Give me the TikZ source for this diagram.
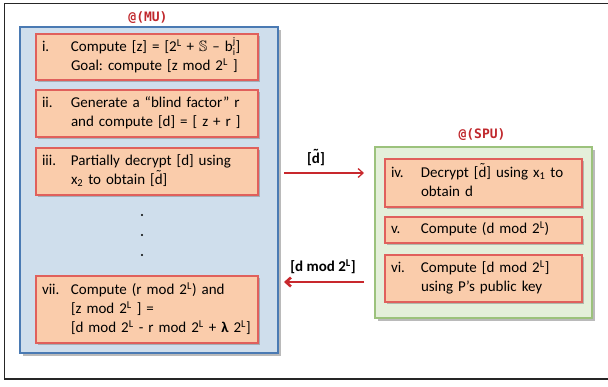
\documentclass[tikz,border=0pt]{standalone}
\usepackage{amssymb}
\usepackage{fontspec}
\setmainfont{Carlito}
\newfontfamily\labfont{DejaVu Sans Mono}
\usetikzlibrary{arrows.meta,shadows,calc}
\definecolor{orfill}{HTML}{FACCAB}
\definecolor{ordraw}{HTML}{E0605C}
\definecolor{bluefill}{HTML}{CFDEEC}
\definecolor{bluedraw}{HTML}{4A7AB3}
\definecolor{grfill}{HTML}{E4EFDA}
\definecolor{grdraw}{HTML}{9CC27C}
\definecolor{labred}{HTML}{C0282D}
\definecolor{arrred}{HTML}{C8282D}
\frenchspacing
\newcommand\td{\ooalign{d\cr\hidewidth\raisebox{0.28em}{˜}\hidewidth\cr}}
\newcommand\subsup[2]{$_{\mbox{\fontsize{10}{10}\selectfont #1}}^{\mbox{\fontsize{10}{10}\selectfont #2}}$}
\begin{document}
\begin{tikzpicture}[x=1pt,y=-1pt,
  panel/.style={line width=2pt, drop shadow={shadow xshift=3pt,shadow yshift=-3pt,opacity=0.45,fill=black!60}},
  obox/.style={draw=ordraw, fill=orfill, line width=1.1pt, inner xsep=6pt, inner ysep=0pt,
     align=left, font=\fontsize{15}{19}\selectfont,
     drop shadow={shadow xshift=2pt,shadow yshift=-2pt,opacity=0.4,fill=black!60}},
  lbox/.style={obox, text width=210pt},
  rbox/.style={obox, text width=185pt},
  tag/.style={text=labred, font=\labfont\bfseries\fontsize{13}{15}\selectfont},
  msg/.style={font=\bfseries\fontsize{15}{18}\selectfont},
  arr/.style={draw=arrred, -{Straight Barb[length=5pt,width=9pt]}}
]
\useasboundingbox (0,0) rectangle (608,386);
% outer frame
\draw[line width=1.3pt, black!85] (612,3.5) -- (4.5,3.5) -- (4.5,379) -- (612,379);

% panels
\node[panel, draw=bluedraw, fill=bluefill, minimum width=258pt, minimum height=326pt, inner sep=0pt] (mu) at (149,190) {};
\node[panel, draw=grdraw, fill=grfill, minimum width=217pt, minimum height=171pt, inner sep=0pt] (spu) at (483.5,232.5) {};
\node[tag] (mutag) at (148,18) {@(MU)};
\node[tag] (sputag) at (482,135) {@(SPU)};

% MU steps
\node[lbox, minimum height=46pt] (s1) at (147,57) {\begin{tabular}{@{}p{29pt}@{}l@{}}
 i. & Compute [z] = [2\textsuperscript{L} + $\mathbb{S}$ -- b\subsup{i}{j}]\\
    & Goal: compute [z mod 2\textsuperscript{L} ]\end{tabular}};
\node[lbox, minimum height=47pt] (s2) at (147,113.5) {\begin{tabular}{@{}p{29pt}@{}l@{}}
 ii. & Generate a “blind factor” r\\
     & and compute [d] = [ z + r ]\end{tabular}};
\node[lbox, minimum height=47pt] (s3) at (147,171.5) {\begin{tabular}{@{}p{29pt}@{}l@{}}
 iii. & Partially decrypt [d] using\\
      & x\textsubscript{2} to obtain [\td]\end{tabular}};
\node[lbox, minimum height=67pt] (s7) at (147,309.5) {\begin{tabular}{@{}p{29pt}@{}l@{}}
 vii. & Compute (r mod 2\textsuperscript{L}) and\\
      & [z mod 2\textsuperscript{L} ] =\\
      & [d mod 2\textsuperscript{L} - r mod 2\textsuperscript{L} + \textbf{λ} 2\textsuperscript{L}]\end{tabular}};
\foreach \yy/\nm in {215/p1,235/p2,255/p3}
  \fill (142,\yy) circle[radius=1.1pt] coordinate (\nm);

% SPU steps
\node[rbox, minimum height=48pt] (s4) at (483.5,183) {\begin{tabular}{@{}p{30pt}@{}l@{}}
 iv. & Decrypt [\td] using x\textsubscript{1} to\\
     & obtain d\end{tabular}};
\node[rbox, minimum height=26pt] (s5) at (483.5,230) {\begin{tabular}{@{}p{30pt}@{}l@{}}
 v. & Compute (d mod 2\textsuperscript{L})\end{tabular}};
\node[rbox, minimum height=47pt] (s6) at (483.5,278.5) {\begin{tabular}{@{}p{30pt}@{}l@{}}
 vi. & Compute [d mod 2\textsuperscript{L}]\\
     & using P’s public key\end{tabular}};

% messages
\coordinate (a1s) at ($(mu.east |- 0,173)+(5,0)$);
\coordinate (a1e) at ($(spu.west |- 0,173)+(-10,0)$);
\coordinate (a2s) at ($(spu.west |- 0,282)+(-10,0)$);
\coordinate (a2e) at ($(mu.east |- 0,282)+(5,0)$);
\draw[arr, line width=1.3pt] (a1s) -- (a1e);
\draw[arr, line width=2.6pt] (a2s) -- (a2e);
\node[msg] (m1) at (316,159) {[\td]};
\node[msg] (m2) at (323,267) {[d mod 2\textsuperscript{L}]};
\end{tikzpicture}
\end{document}
